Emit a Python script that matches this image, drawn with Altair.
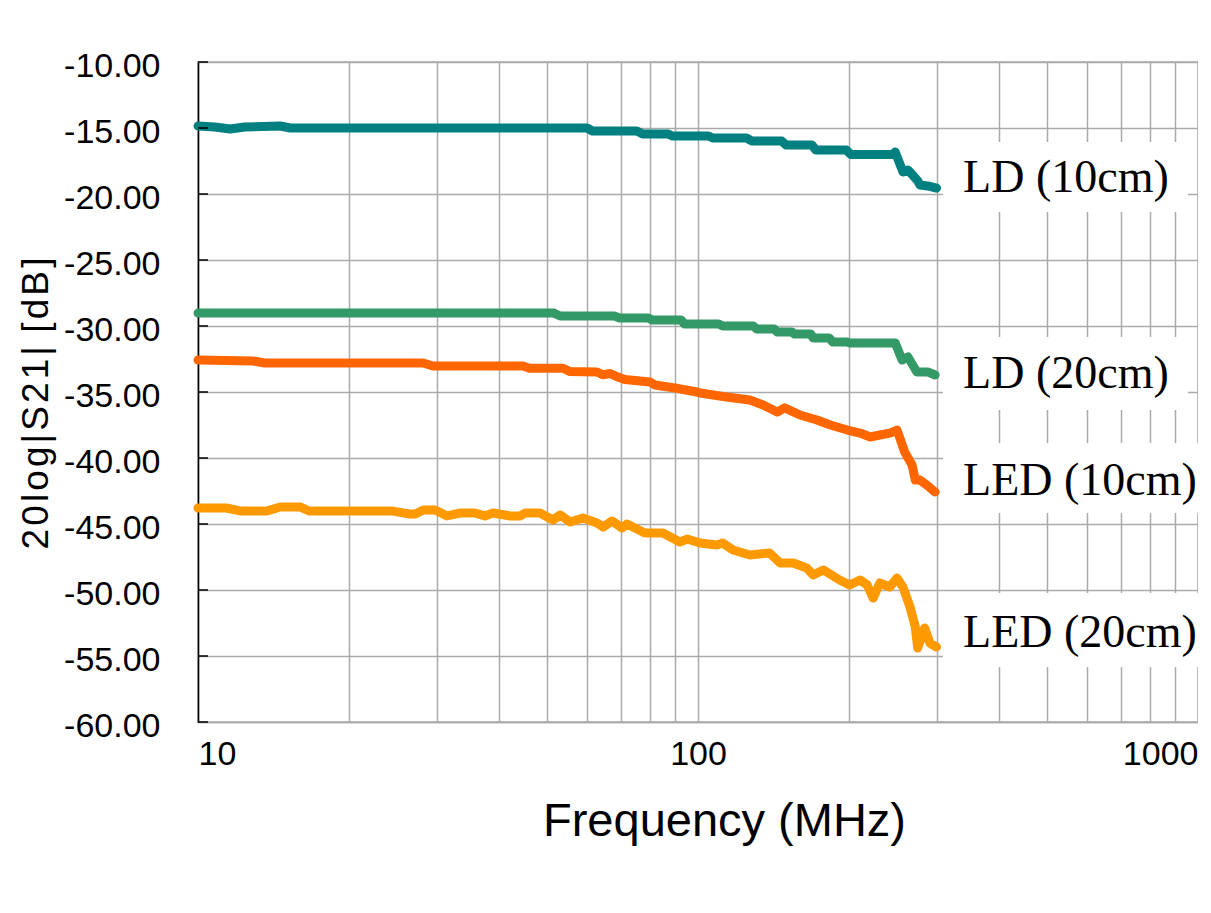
import altair as alt
import pandas as pd

# ---------------- data ----------------
series_names = ["LD (10cm)", "LD (20cm)", "LED (10cm)", "LED (20cm)"]
series_colors = ["#008080", "#339966", "#FF6600", "#FF9900"]

ld10_f = [10, 10.8, 11.6, 12.4, 14.6, 15.3, 60.0, 61.5, 75.5, 77.5, 87, 89, 105, 107, 125, 128,
          147, 150, 169, 172, 198, 202, 245, 248, 257, 263, 275, 278, 288, 300]
ld10_db = [-14.85, -14.92, -15.08, -14.92, -14.85, -15.0, -15.0, -15.23, -15.23, -15.45, -15.45, -15.61,
           -15.61, -15.76, -15.76, -15.98, -15.98, -16.29, -16.29, -16.67, -16.67, -17.0, -17.0, -16.82,
           -18.33, -18.18, -19.0, -19.32, -19.39, -19.55]

ld20_f = [10, 51.5, 53, 68, 69.5, 79.5, 81, 92.5, 94, 110, 112, 129, 131, 142, 144, 154, 156, 168, 170,
          183, 186, 199, 201, 248, 256, 263, 274, 288, 298]
ld20_db = [-29.02, -29.02, -29.24, -29.24, -29.39, -29.39, -29.55, -29.55, -29.85, -29.85, -30.0, -30.0,
           -30.23, -30.23, -30.45, -30.45, -30.61, -30.61, -30.91, -30.91, -31.21, -31.21, -31.29, -31.29,
           -32.58, -32.35, -33.48, -33.48, -33.71]

led10_f = [10, 12.9, 13.6, 28.2, 29.5, 44.7, 46, 53.7, 55.5, 62.8, 64.5, 66.7, 68.5, 71.4, 80.2, 82,
           89.9, 99.5, 101, 114, 127, 135, 144, 149, 160, 173, 184, 199, 211, 221, 231, 242, 250, 253,
           259, 268, 272, 278, 287, 298]
led10_db = [-32.58, -32.65, -32.80, -32.80, -33.03, -33.03, -33.2, -33.2, -33.45, -33.48, -33.7, -33.6,
            -33.8, -34.05, -34.24, -34.47, -34.70, -35.0, -35.08, -35.38, -35.61, -35.98, -36.52, -36.2,
            -36.74, -37.12, -37.5, -37.88, -38.11, -38.41, -38.26, -38.11, -37.88, -38.41, -39.55, -40.53,
            -41.67, -41.67, -42.05, -42.58]

led20_f = [10, 11.4, 12.2, 13.7, 14.6, 16, 16.7, 24.5, 26.5, 27.2, 28.2, 29.8, 31.5, 33.4, 35.8, 37.5,
           38.9, 42.1, 44.1, 45.1, 48.3, 51.3, 53, 55.5, 58.9, 62.8, 64.6, 67.3, 70.5, 72.1, 78.3, 85.1,
           92, 95.1, 101, 109, 112, 117.5, 127, 139, 146, 155, 165, 170, 178, 192, 201, 211, 218, 224,
           231, 242, 250, 257, 265.5, 272, 275, 284, 291, 300]
led20_db = [-43.79, -43.79, -44.02, -44.02, -43.71, -43.71, -44.02, -44.02, -44.24, -44.24, -43.94, -43.94,
            -44.39, -44.17, -44.17, -44.39, -44.17, -44.39, -44.39, -44.17, -44.17, -44.70, -44.32, -44.85,
            -44.55, -44.92, -45.23, -44.77, -45.30, -45.0, -45.68, -45.68, -46.36, -46.14, -46.44, -46.59,
            -46.44, -46.97, -47.35, -47.20, -47.95, -47.95, -48.33, -48.86, -48.48, -49.24, -49.62, -49.24,
            -49.62, -50.61, -49.47, -49.77, -49.09, -49.77, -51.29, -52.80, -54.39, -52.88, -54.02, -54.32]

x_grid = [10, 20, 30, 40, 50, 60, 70, 80, 90, 100, 200, 300, 400, 500, 600, 700, 800, 900, 1000]
y_ticks = [-60, -55, -50, -45, -40, -35, -30, -25, -20, -15, -10]

# label annotations (frequency / dB coordinates)
label_f = [339, 339, 339, 339]
label_db = [-19.85, -34.70, -42.80, -54.32]
box_f1 = [309, 309, 309, 309]
box_f2 = [955, 955, 1081, 1081]
box_db1 = [-16.06, -30.83, -38.86, -50.23]
box_db2 = [-21.36, -36.36, -44.17, -55.83]

# ---------------- tables ----------------
rows = []
for name, fs, dbs in zip(series_names,
                         [ld10_f, ld20_f, led10_f, led20_f],
                         [ld10_db, ld20_db, led10_db, led20_db]):
    for i, (f, d) in enumerate(zip(fs, dbs)):
        rows.append({"series": name, "f": f, "db": d, "order": i})
df = pd.DataFrame(rows)

boxes_df = pd.DataFrame({"f": box_f1, "f2": box_f2, "db": box_db1, "db2": box_db2})
text_df = pd.DataFrame({"text": series_names, "f": label_f, "db": label_db})
ticks_df = pd.DataFrame({"db": y_ticks})

SANS = "Liberation Sans, Arial, sans-serif"

xscale = alt.Scale(type="log", domain=[10, 1000], nice=False)
yscale = alt.Scale(domain=[-60, -10], nice=False, zero=False)

xaxis = alt.Axis(
    values=x_grid,
    labelExpr="(datum.value == 10 || datum.value == 100 || datum.value == 1000) ? format(datum.value, 'd') : ''",
    labelFlush=True, labelFont=SANS, labelFontSize=34, labelColor="black", labelPadding=15,
    ticks=False, domainColor="#aaaaaa", domainWidth=1.5,
    grid=True, gridColor="#aaaaaa", gridWidth=1.5,
    title="Frequency (MHz)", titleFont=SANS, titleFontSize=47, titleFontWeight="normal",
    titleColor="black", titleX=526, titleY=113, titleBaseline="alphabetic", titleAlign="center",
)
hs = "\u200a"
ytitle = hs.join(list("20log|S21|")) + hs + " " + hs.join(list("[dB]"))
yaxis = alt.Axis(
    values=y_ticks,
    labelExpr="'-' + format(abs(datum.value), '.2f')",
    labelFont=SANS, labelFontSize=34, labelColor="black", labelPadding=38, labelOffset=4,
    ticks=False, domainColor="black", domainWidth=1.5,
    grid=True, gridColor="#aaaaaa", gridWidth=1.5,
    title=ytitle, titleFont=SANS, titleFontSize=37, titleFontWeight="normal",
    titleColor="black", titleAngle=270, titleX=-151, titleY=341, titleBaseline="alphabetic",
    titleAlign="center",
)

X = alt.X("f:Q", scale=xscale, axis=xaxis)
Y = alt.Y("db:Q", scale=yscale, axis=yaxis)

lines = alt.Chart(df).mark_line(strokeWidth=9, strokeCap="round", strokeJoin="round").encode(
    x=X, y=Y,
    color=alt.Color("series:N", scale=alt.Scale(domain=series_names, range=series_colors), legend=None),
    order="order:Q",
)

boxes = alt.Chart(boxes_df).mark_rect(color="white").encode(
    x=X, x2="f2:Q", y=Y, y2="db2:Q",
)

texts = alt.Chart(text_df).mark_text(font="Liberation Serif", fontSize=46, align="left",
                                     baseline="alphabetic", color="black").encode(
    x=X, y=Y, text="text:N",
)

inner_ticks = alt.Chart(ticks_df).mark_rule(color="black", strokeWidth=1.5).encode(
    y=Y, x=alt.value(0), x2=alt.value(10),
)

chart = alt.layer(lines, boxes, texts, inner_ticks).properties(
    width=1000, height=660,
    autosize=alt.AutoSizeParams(type="none"),
    padding={"left": 190, "top": 54, "right": 0, "bottom": 175},
    background="white",
).configure_view(stroke="#aaaaaa", strokeWidth=1.5)

chart.save("out.html", embed_options={"renderer": "svg", "actions": False})
